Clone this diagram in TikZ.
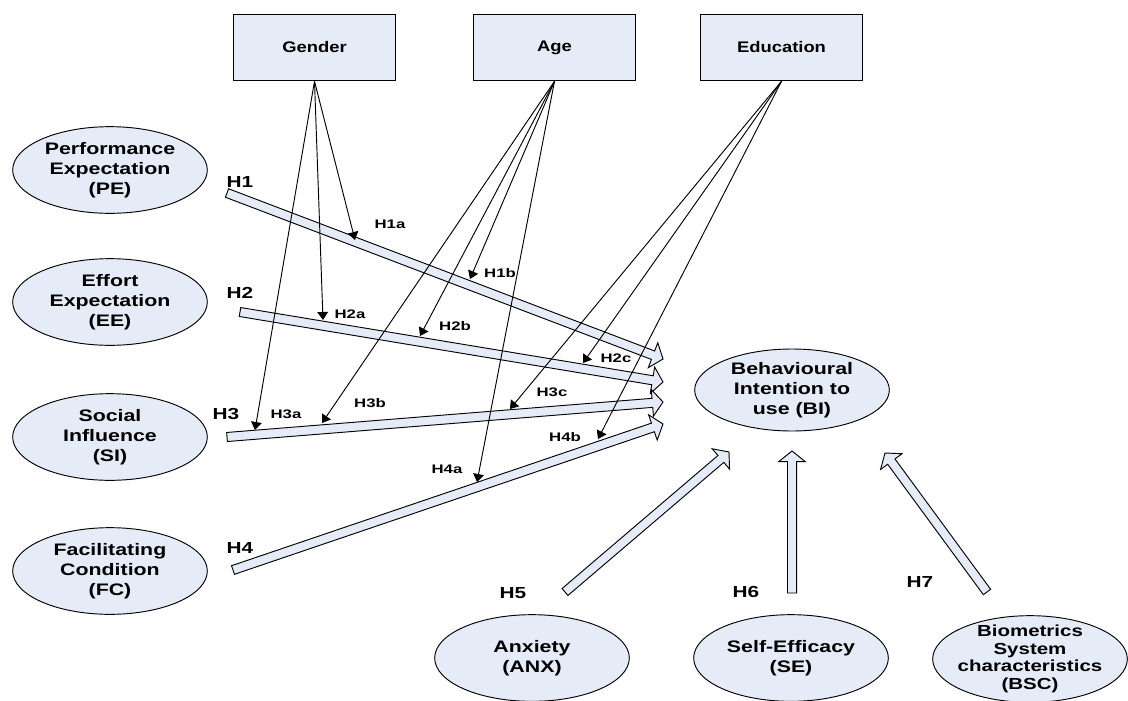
\documentclass[tikz,border=0pt]{standalone}
\usepackage{fontspec}
\setmainfont{Liberation Sans}
\newfontface\ellfont[FakeStretch=1.28]{Liberation Sans Bold}
\newfontface\hypfont[FakeStretch=1.3]{Liberation Sans Bold}
\newfontface\subfont[FakeStretch=1.35]{Liberation Sans Bold}
\newfontface\modfont[FakeStretch=1.2]{Liberation Sans Bold}
\usetikzlibrary{calc,arrows.meta,shapes.geometric}
\definecolor{paleblue}{RGB}{229,235,247}

\tikzset{
  construct/.style={ellipse, draw, line width=0.7pt, fill=paleblue,
    minimum width=146pt, minimum height=65pt, inner sep=0pt},
  ctext/.style={align=center, inner sep=0pt,
    font=\ellfont\fontsize{12.5}{15}\selectfont},
  moderator/.style={rectangle, draw, line width=0.7pt, fill=paleblue,
    minimum width=122pt, minimum height=50pt, inner sep=0pt,
    font=\modfont\fontsize{11.5}{13}\selectfont},
  hyp/.style={font=\hypfont\fontsize{12}{14}\selectfont, inner sep=0pt},
  sublabel/.style={font=\subfont\fontsize{9.3}{11}\selectfont, inner sep=0pt},
  modline/.style={line width=0.7pt, -{Triangle[length=6pt,width=8pt]}},
  barrow/.style={draw, line width=0.7pt, fill=paleblue, line join=miter},
}

% block arrow from #1 (tail) to #2 (tip)
\newcommand\hyparrow[2]{%
  \path ($(#2)!8pt!(#1)$) coordinate (hb);
  \draw[barrow] ($(#1)!3.4pt!90:(#2)$) -- ($(#1)!3.4pt!-90:(#2)$)
    -- ($(hb)!3.4pt!-90:(#2)$) -- ($(hb)!10pt!-90:(#2)$) -- (#2)
    -- ($(hb)!10pt!90:(#2)$) -- ($(hb)!3.4pt!90:(#2)$) -- cycle;
}

\begin{document}
\begin{tikzpicture}[x=0.75pt, y=-0.75pt]
\useasboundingbox (0,0) rectangle (1128,700);

% moderators
\node[moderator] (gender) at (314.5,47.5) {Gender};
\node[moderator] (age)    at (554.5,47.5) {Age};
\node[moderator] (edu)    at (781.5,47.5) {Education};

% constructs
\node[construct, label={[ctext]center:Performance\\Expectation\\(PE)}] (pe) at (110,170) {};
\node[construct, label={[ctext]center:Effort\\Expectation\\(EE)}] (ee) at (110,302) {};
\node[construct, label={[ctext]center:Social\\Influence\\(SI)}] (si) at (110,437) {};
\node[construct, label={[ctext]center:Facilitating\\Condition\\(FC)}] (fc) at (110,571) {};
\node[construct, minimum height=61.5pt,
      label={[ctext]center:Behavioural\\Intention to\\use (BI)}] (bi) at (792,390) {};
\node[construct, label={[ctext]center:Anxiety\\(ANX)}] (anx) at (532,658) {};
\node[construct, label={[ctext]center:Self-Efficacy\\(SE)}] (se) at (791,658) {};
\node[construct, label={[ctext, font=\ellfont\fontsize{12}{13.2}\selectfont]center:Biometrics\\System\\characteristics\\(BSC)}] (bsc) at (1030,659) {};

% block arrow ends
\coordinate (t1) at (227,193); \coordinate (e1) at (663,359);
\coordinate (t2) at (240,312); \coordinate (e2) at (663,382);
\coordinate (t3) at (227,437); \coordinate (e3) at (663,402);
\coordinate (t4) at (233,570); \coordinate (e4) at (663,424);
\coordinate (t5) at (565,592); \coordinate (e5) at (729,452);
\coordinate (t6) at (792,593); \coordinate (e6) at (792,451);
\coordinate (t7) at (987,592); \coordinate (e7) at (885,453);

\hyparrow{t1}{e1}
\hyparrow{t2}{e2}
\hyparrow{t3}{e3}
\hyparrow{t4}{e4}
\hyparrow{t5}{e5}
\hyparrow{t6}{e6}
\hyparrow{t7}{e7}

% moderating arrow tips
\coordinate (m1a) at (355,240);
\coordinate (m2a) at (323,320);
\coordinate (m3a) at (255,430);
\coordinate (m1b) at (470,279);
\coordinate (m2b) at (420,336);
\coordinate (m3b) at (322,423);
\coordinate (m4a) at (477,482);
\coordinate (m2c) at (583,363);
\coordinate (m3c) at (510,409);
\coordinate (m4b) at (598,439);

\foreach \m in {m1a,m2a,m3a} \draw[modline] (gender.south) -- (\m);
\foreach \m in {m1b,m2b,m3b,m4a} \draw[modline] (age.south) -- (\m);
\foreach \m in {m2c,m3c,m4b} \draw[modline] (edu.south) -- (\m);

% hypothesis labels
\node[hyp] (h1) at (240,182) {H1};
\node[hyp] (h2) at (240,293) {H2};
\node[hyp] (h3) at (226,414) {H3};
\node[hyp] (h4) at (240,548) {H4};
\node[hyp] (h5) at (513,593) {H5};
\node[hyp] (h6) at (746,592) {H6};
\node[hyp] (h7) at (920,582) {H7};

\node[sublabel] (l1a) at (390,224) {H1a};
\node[sublabel] (l1b) at (500,273) {H1b};
\node[sublabel] (l2a) at (350,314) {H2a};
\node[sublabel] (l2b) at (455,326) {H2b};
\node[sublabel] (l2c) at (616,358) {H2c};
\node[sublabel] (l3a) at (286,414) {H3a};
\node[sublabel] (l3b) at (370,403) {H3b};
\node[sublabel] (l3c) at (552,392) {H3c};
\node[sublabel] (l4a) at (447,469) {H4a};
\node[sublabel] (l4b) at (565,437) {H4b};
\end{tikzpicture}
\end{document}
